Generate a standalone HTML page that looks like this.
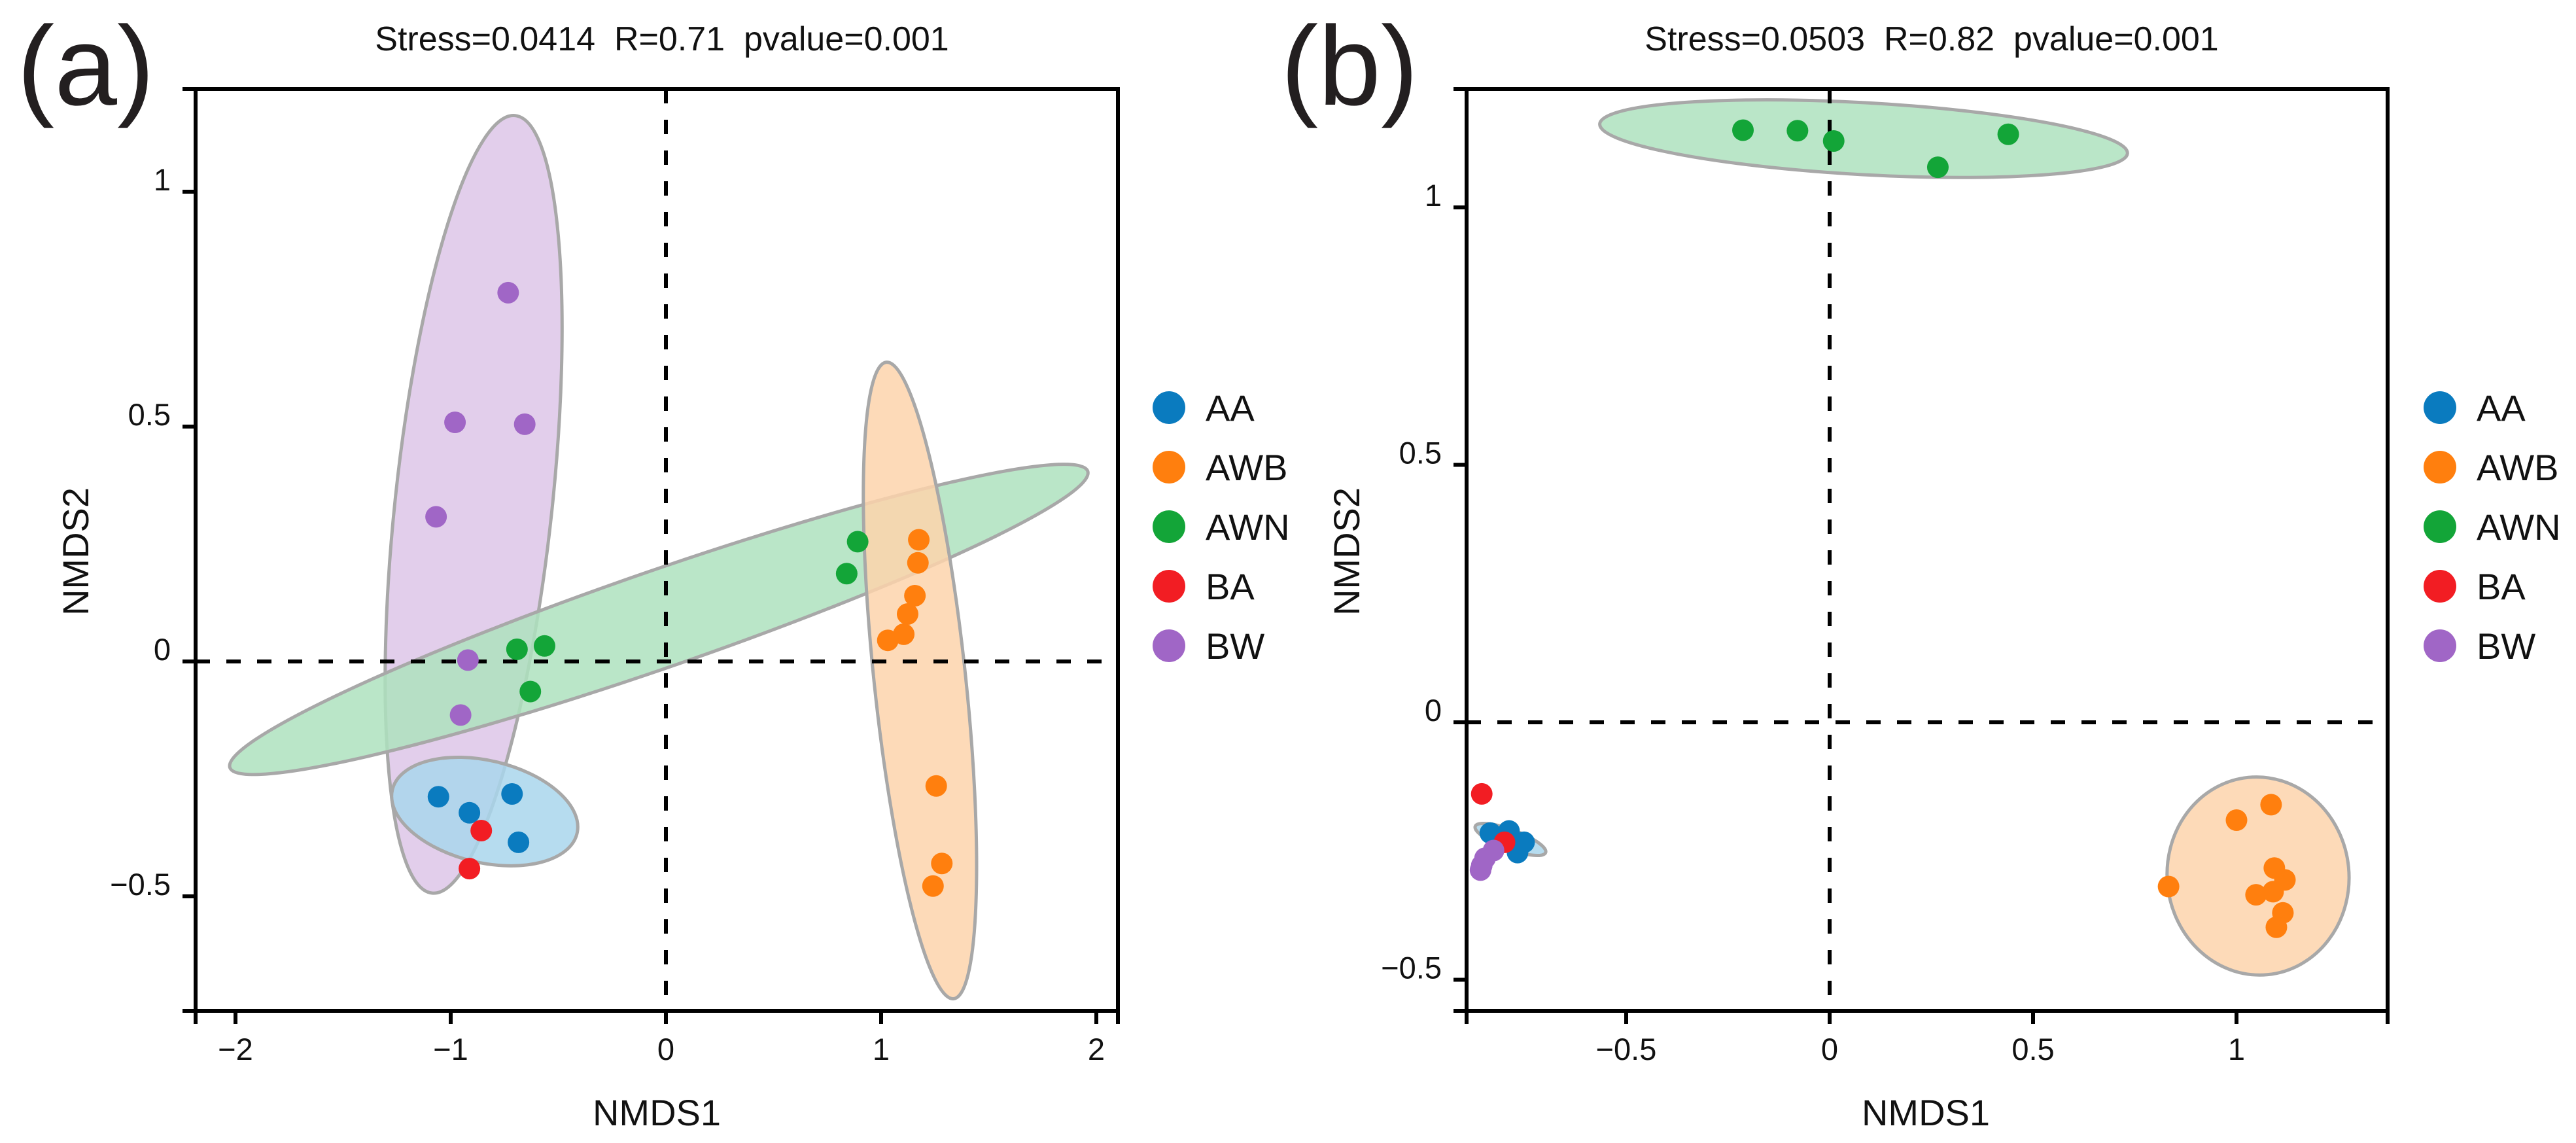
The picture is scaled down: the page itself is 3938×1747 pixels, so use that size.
<!DOCTYPE html>
<html><head><meta charset="utf-8">
<style>
html,body{margin:0;padding:0;background:#fff;}
svg{display:block;font-family:"Liberation Sans",Arial,sans-serif;}
</style></head>
<body>
<svg id="fig" width="3938" height="1747" viewBox="0 0 3938 1747" xmlns="http://www.w3.org/2000/svg"></svg>
<script>
// ---------- data ----------
const groups = ["AA","AWB","AWN","BA","BW"];
const groupColors = ["#0a7bbf","#ff7f0e","#13a538","#f21d23","#a066c6"];
const fillColors = ["#a9d6ec","#fdd3ac","#aee2be","#ffffff","#ddc6e8"];

// Panel (a)
const aTitle = "Stress=0.0414  R=0.71  pvalue=0.001";
const aXTicks = [-2,-1,0,1,2];
const aYTicks = [-0.5,0,0.5,1];
const aYTickLabels = ["\u22120.5","0","0.5","1"];
const aXTickLabels = ["\u22122","\u22121","0","1","2"];
const aAA_x = [-1.057,-0.913,-0.715,-0.685];
const aAA_y = [-0.288,-0.322,-0.282,-0.385];
const aAWB_x = [1.175,1.171,1.157,1.123,1.105,1.031,1.256,1.282,1.241];
const aAWB_y = [0.259,0.210,0.140,0.101,0.058,0.045,-0.265,-0.430,-0.478];
const aAWN_x = [0.891,0.840,-0.692,-0.564,-0.630];
const aAWN_y = [0.255,0.187,0.026,0.033,-0.064];
const aBA_x = [-0.858,-0.913];
const aBA_y = [-0.360,-0.441];
const aBW_x = [-0.733,-0.980,-0.656,-1.068,-0.920,-0.954];
const aBW_y = [0.785,0.509,0.505,0.308,0.003,-0.114];
// ellipses: major-axis endpoints in data units [x1,y1,x2,y2]
const aEllipseBW = [-0.700,1.162,-1.087,-0.493];
const aEllipseAWN = [-2.026,-0.226,1.960,0.405];
const aEllipseAA = [-1.271,-0.273,-0.413,-0.366];
const aEllipseAWB = [1.024,0.637,1.337,-0.718];

// Panel (b)
const bTitle = "Stress=0.0503  R=0.82  pvalue=0.001";
const bXTicks = [-0.5,0,0.5,1];
const bXTickLabels = ["\u22120.5","0","0.5","1"];
const bYTicks = [-0.5,0,0.5,1];
const bYTickLabels = ["\u22120.5","0","0.5","1"];
const bAA_x = [-0.834,-0.788,-0.751,-0.767];
const bAA_y = [-0.215,-0.211,-0.233,-0.253];
const bAWB_x = [1.085,1.000,1.093,1.119,1.090,1.048,1.114,1.098,0.833];
const bAWB_y = [-0.160,-0.190,-0.283,-0.306,-0.329,-0.335,-0.370,-0.398,-0.319];
const bAWN_x = [-0.213,-0.079,0.010,0.266,0.439];
const bAWN_y = [1.150,1.149,1.129,1.078,1.142];
const bBA_x = [-0.855,-0.799];
const bBA_y = [-0.139,-0.233];
const bBW_x = [-0.826,-0.847,-0.855,-0.858];
const bBW_y = [-0.249,-0.264,-0.278,-0.287];
const bEllipseAWN = [-0.565,1.162,0.732,1.105];
const bEllipseAWB = [1.029,-0.107,1.077,-0.490];
const bEllipseAA = [-0.871,-0.202,-0.698,-0.253];

// ---------- drawing ----------
const NS="http://www.w3.org/2000/svg";
const svg=document.getElementById('fig');
function mk(tag,attrs,parent){const e=document.createElementNS(NS,tag);for(const k in attrs)e.setAttribute(k,attrs[k]);(parent||svg).appendChild(e);return e;}

function panel(cfg){
  const g=mk('g',{});
  
  
  const X=v=>cfg.x0+ (v)*cfg.xu;
  const Y=v=>cfg.y0- (v)*cfg.yu;
  cfg.ellipses.forEach(el=>{
    const p1=[X(el.d[0]),Y(el.d[1])], p2=[X(el.d[2]),Y(el.d[3])];
    const cx=(p1[0]+p2[0])/2, cy=(p1[1]+p2[1])/2;
    const rx=Math.hypot(p2[0]-p1[0],p2[1]-p1[1])/2;
    const ang=Math.atan2(p2[1]-p1[1],p2[0]-p1[0])*180/Math.PI;
    const e=mk('ellipse',{cx:cx,cy:cy,rx:rx,ry:el.minor,transform:`rotate(${ang} ${cx} ${cy})`,fill:el.fill,'fill-opacity':0.85,stroke:'#a8a8a8','stroke-width':el.sw||5},g);
    
    
  });
  const h=mk('line',{x1:cfg.left,x2:cfg.right,y1:Y(0),y2:Y(0),stroke:'#000','stroke-width':6,'stroke-dasharray':'22 25'},g);
  
  
  const v=mk('line',{x1:X(0),x2:X(0),y1:cfg.top,y2:cfg.bottom-20,stroke:'#000','stroke-width':6,'stroke-dasharray':'22 25'},g);
  
  
  cfg.series.forEach((s,i)=>{
    s.xs.forEach((xv,j)=>{
      const c=mk('circle',{cx:X(xv),cy:Y(s.ys[j]),r:16.5,fill:groupColors[s.gi]},g);
      
      
    });
  });
  const fr=mk('rect',{x:cfg.left,y:cfg.top,width:cfg.right-cfg.left,height:cfg.bottom-cfg.top,fill:'none',stroke:'#000','stroke-width':6},g);
  
  
  cfg.xticks.forEach((t,i)=>{
    mk('line',{x1:X(t),x2:X(t),y1:cfg.bottom,y2:cfg.bottom+20,stroke:'#000','stroke-width':6},g);
    const tx=mk('text',{x:X(t),y:cfg.bottom+75,'font-size':47,'text-anchor':'middle',fill:'#111'},g);
    tx.textContent=cfg.xlabels[i];
    
    
  });
  mk('line',{x1:cfg.left,x2:cfg.left,y1:cfg.bottom,y2:cfg.bottom+20,stroke:'#000','stroke-width':6},g);
  mk('line',{x1:cfg.right,x2:cfg.right,y1:cfg.bottom,y2:cfg.bottom+20,stroke:'#000','stroke-width':6},g);
  cfg.yticks.forEach((t,i)=>{
    mk('line',{x1:cfg.left-20,x2:cfg.left,y1:Y(t),y2:Y(t),stroke:'#000','stroke-width':6},g);
    const ty=mk('text',{x:cfg.left-38,y:Y(t)-2,'font-size':47,'text-anchor':'end',fill:'#111'},g);
    ty.textContent=cfg.ylabels[i];
    
    
  });
  mk('line',{x1:cfg.left-20,x2:cfg.left,y1:cfg.top,y2:cfg.top,stroke:'#000','stroke-width':6},g);
  mk('line',{x1:cfg.left-20,x2:cfg.left,y1:cfg.bottom,y2:cfg.bottom,stroke:'#000','stroke-width':6},g);
  const tt=mk('text',{x:cfg.titleX,y:77,'font-size':52,'text-anchor':'middle',fill:'#111','xml:space':'preserve',style:'white-space:pre'},g);
  tt.textContent=cfg.title;
  
  
  const pl=mk('text',{x:cfg.tagX,y:160,'font-size':172,fill:'#231f20'},g);
  pl.textContent=cfg.tag;
  
  
  const xl=mk('text',{x:cfg.xTitleX,y:1720,'font-size':56,'text-anchor':'middle',fill:'#111'},g);
  xl.textContent='NMDS1';
  
  
  const yl=mk('text',{x:0,y:0,'font-size':56,'text-anchor':'middle',fill:'#111',transform:`translate(${cfg.yTitleX},843) rotate(-90)`},g);
  yl.textContent='NMDS2';
  
  
  groups.forEach((gname,i)=>{
    const y=623+i*91;
    const lc=mk('circle',{cx:cfg.legX,cy:y,r:25,fill:groupColors[i]},g);
    
    
    const lt=mk('text',{x:cfg.legX+56,y:y+20,'font-size':56,fill:'#111'},g);
    lt.textContent=gname;
    
    
  });
}

panel({name:'panel-a',x0:1018,xu:329,y0:1011,yu:718,left:299,right:1709,top:136,bottom:1545,
  title:aTitle,titleX:1012,tag:'(a)',tagX:26,xTitleX:1004,yTitleX:135,legX:1787,
  xticks:aXTicks,xlabels:aXTickLabels,yticks:aYTicks,ylabels:aYTickLabels,
  ellipses:[
    {group:'BW',d:aEllipseBW,minor:120,fill:fillColors[4]},
    {group:'AWN',d:aEllipseAWN,minor:74,fill:fillColors[2]},
    {group:'AA',d:aEllipseAA,minor:78,fill:fillColors[0]},
    {group:'AWB',d:aEllipseAWB,minor:70,fill:fillColors[1]}],
  series:[{gi:4,xs:aBW_x,ys:aBW_y},{gi:2,xs:aAWN_x,ys:aAWN_y},{gi:1,xs:aAWB_x,ys:aAWB_y},{gi:0,xs:aAA_x,ys:aAA_y},{gi:3,xs:aBA_x,ys:aBA_y}]
});
panel({name:'panel-b',x0:2797,xu:622,y0:1104,yu:787,left:2242,right:3650,top:136,bottom:1545,
  title:bTitle,titleX:2953,tag:'(b)',tagX:1958,xTitleX:2944,yTitleX:2078,legX:3730,
  xticks:bXTicks,xlabels:bXTickLabels,yticks:bYTicks,ylabels:bYTickLabels,
  ellipses:[
    {group:'AWN',d:bEllipseAWN,minor:55,fill:fillColors[2]},
    {group:'AWB',d:bEllipseAWB,minor:139,fill:fillColors[1]},
    {group:'AA',d:bEllipseAA,minor:15,fill:fillColors[0],sw:5}],
  series:[{gi:2,xs:bAWN_x,ys:bAWN_y},{gi:1,xs:bAWB_x,ys:bAWB_y},{gi:0,xs:bAA_x,ys:bAA_y},{gi:3,xs:bBA_x,ys:bBA_y},{gi:4,xs:bBW_x,ys:bBW_y}]
});
</script>
</body></html>
